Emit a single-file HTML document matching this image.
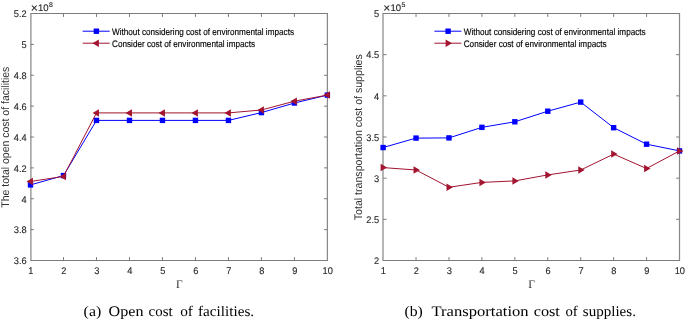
<!DOCTYPE html>
<html><head><meta charset="utf-8"><style>
html,body{margin:0;padding:0;background:#fff;}
body{width:685px;height:321px;overflow:hidden;}
svg{display:block;will-change:transform;}
.tk{font-family:"Liberation Sans",sans-serif;font-size:9.7px;fill:#262626;stroke:#262626;stroke-width:0.12px;}
.lb{font-family:"Liberation Sans",sans-serif;font-size:11px;fill:#303030;}
.lg{font-family:"Liberation Sans",sans-serif;font-size:9.4px;fill:#000;stroke:#000;stroke-width:0.15px;}
.gm{font-family:"Liberation Serif",serif;font-size:11.6px;fill:#303030;}
.cap{font-family:"Liberation Serif",serif;font-size:14.6px;fill:#000;}
</style></head><body>
<svg width="685" height="321" viewBox="0 0 685 321">
<rect width="685" height="321" fill="#fff"/>
<path d="M30.90 13.00V261.00M327.40 13.00V261.00" stroke="#8a8a8a" stroke-width="1.25" fill="none"/>
<path d="M30.90 13.50H327.40M30.90 260.50H327.40" stroke="#7c7c7c" stroke-width="1" fill="none"/>
<path d="M63.49 260.50v-3.4M63.49 13.50v3.4M96.48 260.50v-3.4M96.48 13.50v3.4M129.47 260.50v-3.4M129.47 13.50v3.4M162.46 260.50v-3.4M162.46 13.50v3.4M195.44 260.50v-3.4M195.44 13.50v3.4M228.43 260.50v-3.4M228.43 13.50v3.4M261.42 260.50v-3.4M261.42 13.50v3.4M294.41 260.50v-3.4M294.41 13.50v3.4M30.50 229.62h3.4M327.40 229.62h-3.4M30.50 198.75h3.4M327.40 198.75h-3.4M30.50 167.88h3.4M327.40 167.88h-3.4M30.50 137.00h3.4M327.40 137.00h-3.4M30.50 106.13h3.4M327.40 106.13h-3.4M30.50 75.25h3.4M327.40 75.25h-3.4M30.50 44.38h3.4M327.40 44.38h-3.4" stroke="#7c7c7c" stroke-width="1" fill="none"/>
<text transform="translate(30.80,274.20) skewX(0.1) scale(0.955,1)" class="tk" text-anchor="middle">1</text>
<text transform="translate(63.79,274.20) skewX(0.1) scale(0.955,1)" class="tk" text-anchor="middle">2</text>
<text transform="translate(96.78,274.20) skewX(0.1) scale(0.955,1)" class="tk" text-anchor="middle">3</text>
<text transform="translate(129.77,274.20) skewX(0.1) scale(0.955,1)" class="tk" text-anchor="middle">4</text>
<text transform="translate(162.76,274.20) skewX(0.1) scale(0.955,1)" class="tk" text-anchor="middle">5</text>
<text transform="translate(195.74,274.20) skewX(0.1) scale(0.955,1)" class="tk" text-anchor="middle">6</text>
<text transform="translate(228.73,274.20) skewX(0.1) scale(0.955,1)" class="tk" text-anchor="middle">7</text>
<text transform="translate(261.72,274.20) skewX(0.1) scale(0.955,1)" class="tk" text-anchor="middle">8</text>
<text transform="translate(294.71,274.20) skewX(0.1) scale(0.955,1)" class="tk" text-anchor="middle">9</text>
<text transform="translate(327.70,274.20) skewX(0.1) scale(0.955,1)" class="tk" text-anchor="middle">10</text>
<text transform="translate(26.60,264.25) skewX(0.1) scale(0.955,1)" class="tk" text-anchor="end">3.6</text>
<text transform="translate(26.60,233.37) skewX(0.1) scale(0.955,1)" class="tk" text-anchor="end">3.8</text>
<text transform="translate(26.60,202.50) skewX(0.1) scale(0.955,1)" class="tk" text-anchor="end">4</text>
<text transform="translate(26.60,171.62) skewX(0.1) scale(0.955,1)" class="tk" text-anchor="end">4.2</text>
<text transform="translate(26.60,140.75) skewX(0.1) scale(0.955,1)" class="tk" text-anchor="end">4.4</text>
<text transform="translate(26.60,109.88) skewX(0.1) scale(0.955,1)" class="tk" text-anchor="end">4.6</text>
<text transform="translate(26.60,79.00) skewX(0.1) scale(0.955,1)" class="tk" text-anchor="end">4.8</text>
<text transform="translate(26.60,48.13) skewX(0.1) scale(0.955,1)" class="tk" text-anchor="end">5</text>
<text transform="translate(26.60,17.25) skewX(0.1) scale(0.955,1)" class="tk" text-anchor="end">5.2</text>
<text transform="translate(30.70,11.90) skewX(0.1)" class="tk" style="font-size:12.2px">&#215;</text>
<text transform="translate(37.90,11.00) skewX(0.1)" class="tk" style="font-size:9.6px">10</text>
<text transform="translate(48.90,6.50) skewX(0.1)" class="tk" style="font-size:7px">8</text>
<polyline points="30.50,184.90 63.49,175.60 96.48,120.40 129.47,120.40 162.46,120.40 195.44,120.40 228.43,120.40 261.42,112.60 294.41,103.00 327.40,95.10" fill="none" stroke="#0000ff" stroke-width="1.0"/>
<rect x="27.80" y="182.20" width="5.4" height="5.4" fill="#0000ff"/>
<rect x="60.79" y="172.90" width="5.4" height="5.4" fill="#0000ff"/>
<rect x="93.78" y="117.70" width="5.4" height="5.4" fill="#0000ff"/>
<rect x="126.77" y="117.70" width="5.4" height="5.4" fill="#0000ff"/>
<rect x="159.76" y="117.70" width="5.4" height="5.4" fill="#0000ff"/>
<rect x="192.74" y="117.70" width="5.4" height="5.4" fill="#0000ff"/>
<rect x="225.73" y="117.70" width="5.4" height="5.4" fill="#0000ff"/>
<rect x="258.72" y="109.90" width="5.4" height="5.4" fill="#0000ff"/>
<rect x="291.71" y="100.30" width="5.4" height="5.4" fill="#0000ff"/>
<rect x="324.70" y="92.40" width="5.4" height="5.4" fill="#0000ff"/>
<polyline points="30.50,181.50 63.49,176.40 96.48,112.90 129.47,112.90 162.46,112.90 195.44,112.90 228.43,112.90 261.42,110.00 294.41,101.20 327.40,95.10" fill="none" stroke="#a2142f" stroke-width="1.0"/>
<polygon points="26.55,181.50 32.95,177.75 32.95,185.25" fill="#a2142f"/>
<polygon points="59.54,176.40 65.94,172.65 65.94,180.15" fill="#a2142f"/>
<polygon points="92.53,112.90 98.93,109.15 98.93,116.65" fill="#a2142f"/>
<polygon points="125.52,112.90 131.92,109.15 131.92,116.65" fill="#a2142f"/>
<polygon points="158.51,112.90 164.91,109.15 164.91,116.65" fill="#a2142f"/>
<polygon points="191.49,112.90 197.89,109.15 197.89,116.65" fill="#a2142f"/>
<polygon points="224.48,112.90 230.88,109.15 230.88,116.65" fill="#a2142f"/>
<polygon points="257.47,110.00 263.87,106.25 263.87,113.75" fill="#a2142f"/>
<polygon points="290.46,101.20 296.86,97.45 296.86,104.95" fill="#a2142f"/>
<polygon points="323.45,95.10 329.85,91.35 329.85,98.85" fill="#a2142f"/>
<text transform="translate(9.2,137.20) rotate(-90) skewX(0.1)" x="-70.50" class="lb" textLength="141" lengthAdjust="spacingAndGlyphs">The total open cost of facilities</text>
<text transform="translate(179.25,288.40) skewX(0.1)" class="gm" text-anchor="middle">&#915;</text>
<line x1="82.7" y1="31.2" x2="109.7" y2="31.2" stroke="#0000ff" stroke-width="1.0"/>
<rect x="93.70" y="28.50" width="5.4" height="5.4" fill="#0000ff"/>
<text transform="translate(112.00,34.50) skewX(0.1)" class="lg" textLength="182" lengthAdjust="spacingAndGlyphs">Without considering cost of environmental impacts</text>
<line x1="82.7" y1="43.2" x2="109.7" y2="43.2" stroke="#a2142f" stroke-width="1.0"/>
<polygon points="92.45,43.20 98.85,39.45 98.85,46.95" fill="#a2142f"/>
<text transform="translate(112.00,46.50) skewX(0.1)" class="lg" textLength="143" lengthAdjust="spacingAndGlyphs">Consider cost of environmental impacts</text>
<text transform="translate(83.60,316.30) skewX(0.1)" class="cap" textLength="17.60" lengthAdjust="spacingAndGlyphs">(a)</text>
<text transform="translate(108.50,316.30) skewX(0.1)" class="cap" textLength="35.00" lengthAdjust="spacingAndGlyphs">Open</text>
<text transform="translate(148.60,316.30) skewX(0.1)" class="cap" textLength="24.10" lengthAdjust="spacingAndGlyphs">cost</text>
<text transform="translate(180.20,316.30) skewX(0.1)" class="cap" textLength="12.80" lengthAdjust="spacingAndGlyphs">of</text>
<text transform="translate(198.00,316.30) skewX(0.1)" class="cap" textLength="56.10" lengthAdjust="spacingAndGlyphs">facilities.</text>
<path d="M383.00 13.00V261.00M679.50 13.00V261.00" stroke="#8a8a8a" stroke-width="1.25" fill="none"/>
<path d="M383.00 13.50H679.50M383.00 260.50H679.50" stroke="#7c7c7c" stroke-width="1" fill="none"/>
<path d="M416.03 260.50v-3.4M416.03 13.50v3.4M448.97 260.50v-3.4M448.97 13.50v3.4M481.90 260.50v-3.4M481.90 13.50v3.4M514.83 260.50v-3.4M514.83 13.50v3.4M547.77 260.50v-3.4M547.77 13.50v3.4M580.70 260.50v-3.4M580.70 13.50v3.4M613.63 260.50v-3.4M613.63 13.50v3.4M646.57 260.50v-3.4M646.57 13.50v3.4M383.10 219.33h3.4M679.50 219.33h-3.4M383.10 178.17h3.4M679.50 178.17h-3.4M383.10 137.00h3.4M679.50 137.00h-3.4M383.10 95.83h3.4M679.50 95.83h-3.4M383.10 54.67h3.4M679.50 54.67h-3.4" stroke="#7c7c7c" stroke-width="1" fill="none"/>
<text transform="translate(383.40,274.20) skewX(0.1) scale(0.955,1)" class="tk" text-anchor="middle">1</text>
<text transform="translate(416.33,274.20) skewX(0.1) scale(0.955,1)" class="tk" text-anchor="middle">2</text>
<text transform="translate(449.27,274.20) skewX(0.1) scale(0.955,1)" class="tk" text-anchor="middle">3</text>
<text transform="translate(482.20,274.20) skewX(0.1) scale(0.955,1)" class="tk" text-anchor="middle">4</text>
<text transform="translate(515.13,274.20) skewX(0.1) scale(0.955,1)" class="tk" text-anchor="middle">5</text>
<text transform="translate(548.07,274.20) skewX(0.1) scale(0.955,1)" class="tk" text-anchor="middle">6</text>
<text transform="translate(581.00,274.20) skewX(0.1) scale(0.955,1)" class="tk" text-anchor="middle">7</text>
<text transform="translate(613.93,274.20) skewX(0.1) scale(0.955,1)" class="tk" text-anchor="middle">8</text>
<text transform="translate(646.87,274.20) skewX(0.1) scale(0.955,1)" class="tk" text-anchor="middle">9</text>
<text transform="translate(679.80,274.20) skewX(0.1) scale(0.955,1)" class="tk" text-anchor="middle">10</text>
<text transform="translate(379.20,264.25) skewX(0.1) scale(0.955,1)" class="tk" text-anchor="end">2</text>
<text transform="translate(379.20,223.08) skewX(0.1) scale(0.955,1)" class="tk" text-anchor="end">2.5</text>
<text transform="translate(379.20,181.92) skewX(0.1) scale(0.955,1)" class="tk" text-anchor="end">3</text>
<text transform="translate(379.20,140.75) skewX(0.1) scale(0.955,1)" class="tk" text-anchor="end">3.5</text>
<text transform="translate(379.20,99.58) skewX(0.1) scale(0.955,1)" class="tk" text-anchor="end">4</text>
<text transform="translate(379.20,58.42) skewX(0.1) scale(0.955,1)" class="tk" text-anchor="end">4.5</text>
<text transform="translate(379.20,17.25) skewX(0.1) scale(0.955,1)" class="tk" text-anchor="end">5</text>
<text transform="translate(383.30,11.90) skewX(0.1)" class="tk" style="font-size:12.2px">&#215;</text>
<text transform="translate(390.50,11.00) skewX(0.1)" class="tk" style="font-size:9.6px">10</text>
<text transform="translate(401.50,6.50) skewX(0.1)" class="tk" style="font-size:7px">5</text>
<polyline points="383.10,147.55 416.03,138.10 448.97,137.90 481.90,127.35 514.83,121.80 547.77,111.20 580.70,102.10 613.63,127.70 646.57,144.20 679.50,150.90" fill="none" stroke="#0000ff" stroke-width="1.0"/>
<rect x="380.40" y="144.85" width="5.4" height="5.4" fill="#0000ff"/>
<rect x="413.33" y="135.40" width="5.4" height="5.4" fill="#0000ff"/>
<rect x="446.27" y="135.20" width="5.4" height="5.4" fill="#0000ff"/>
<rect x="479.20" y="124.65" width="5.4" height="5.4" fill="#0000ff"/>
<rect x="512.13" y="119.10" width="5.4" height="5.4" fill="#0000ff"/>
<rect x="545.07" y="108.50" width="5.4" height="5.4" fill="#0000ff"/>
<rect x="578.00" y="99.40" width="5.4" height="5.4" fill="#0000ff"/>
<rect x="610.93" y="125.00" width="5.4" height="5.4" fill="#0000ff"/>
<rect x="643.87" y="141.50" width="5.4" height="5.4" fill="#0000ff"/>
<rect x="676.80" y="148.20" width="5.4" height="5.4" fill="#0000ff"/>
<polyline points="383.10,167.60 416.03,170.00 448.97,187.25 481.90,182.40 514.83,180.90 547.77,174.90 580.70,170.00 613.63,154.10 646.57,168.50 679.50,150.90" fill="none" stroke="#a2142f" stroke-width="1.0"/>
<polygon points="387.05,167.60 380.65,163.85 380.65,171.35" fill="#a2142f"/>
<polygon points="419.98,170.00 413.58,166.25 413.58,173.75" fill="#a2142f"/>
<polygon points="452.92,187.25 446.52,183.50 446.52,191.00" fill="#a2142f"/>
<polygon points="485.85,182.40 479.45,178.65 479.45,186.15" fill="#a2142f"/>
<polygon points="518.78,180.90 512.38,177.15 512.38,184.65" fill="#a2142f"/>
<polygon points="551.72,174.90 545.32,171.15 545.32,178.65" fill="#a2142f"/>
<polygon points="584.65,170.00 578.25,166.25 578.25,173.75" fill="#a2142f"/>
<polygon points="617.58,154.10 611.18,150.35 611.18,157.85" fill="#a2142f"/>
<polygon points="650.52,168.50 644.12,164.75 644.12,172.25" fill="#a2142f"/>
<polygon points="683.45,150.90 677.05,147.15 677.05,154.65" fill="#a2142f"/>
<text transform="translate(361.9,137.20) rotate(-90) skewX(0.1)" x="-83.00" class="lb" textLength="166" lengthAdjust="spacingAndGlyphs">Total transportation cost of supplies</text>
<text transform="translate(531.60,288.40) skewX(0.1)" class="gm" text-anchor="middle">&#915;</text>
<line x1="434.4" y1="31.2" x2="461.4" y2="31.2" stroke="#0000ff" stroke-width="1.0"/>
<rect x="445.40" y="28.50" width="5.4" height="5.4" fill="#0000ff"/>
<text transform="translate(463.70,34.50) skewX(0.1)" class="lg" textLength="182" lengthAdjust="spacingAndGlyphs">Without considering cost of environmental impacts</text>
<line x1="434.4" y1="43.2" x2="461.4" y2="43.2" stroke="#a2142f" stroke-width="1.0"/>
<polygon points="452.05,43.20 445.65,39.45 445.65,46.95" fill="#a2142f"/>
<text transform="translate(463.70,46.50) skewX(0.1)" class="lg" textLength="143" lengthAdjust="spacingAndGlyphs">Consider cost of environmental impacts</text>
<text transform="translate(404.40,316.30) skewX(0.1)" class="cap" textLength="18.40" lengthAdjust="spacingAndGlyphs">(b)</text>
<text transform="translate(431.50,316.30) skewX(0.1)" class="cap" textLength="97.10" lengthAdjust="spacingAndGlyphs">Transportation</text>
<text transform="translate(533.70,316.30) skewX(0.1)" class="cap" textLength="26.20" lengthAdjust="spacingAndGlyphs">cost</text>
<text transform="translate(565.40,316.30) skewX(0.1)" class="cap" textLength="12.30" lengthAdjust="spacingAndGlyphs">of</text>
<text transform="translate(582.80,316.30) skewX(0.1)" class="cap" textLength="53.10" lengthAdjust="spacingAndGlyphs">supplies.</text>
</svg>
</body></html>
